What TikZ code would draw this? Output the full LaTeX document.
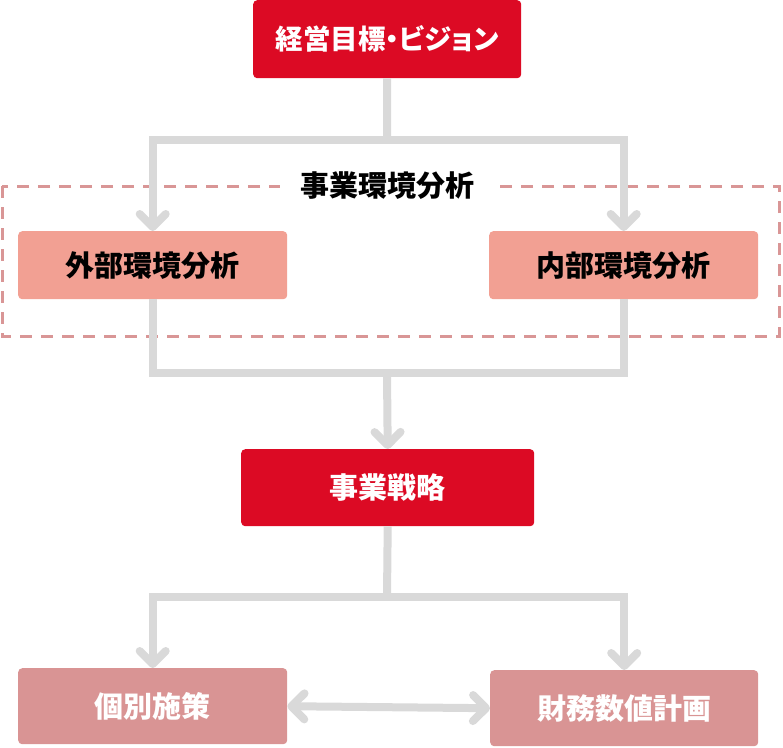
\documentclass[tikz,border=0pt]{standalone}
\usepackage{fontspec}
\setmainfont{Noto Sans CJK JP}
\newfontfamily\jpprop{Noto Sans CJK JP}[RawFeature=+palt]
\usetikzlibrary{arrows.meta}
\definecolor{crim}{HTML}{DC0A24}
\definecolor{salmon}{HTML}{F2A093}
\definecolor{dusty}{HTML}{D99494}
\definecolor{lgray}{HTML}{D9D9D9}
\definecolor{framecol}{HTML}{D99696}
\tikzset{
  box/.style={rounded corners=4pt, inner sep=0pt, anchor=north west,
    font=\fontsize{29}{32}\selectfont\bfseries},
  redbox/.style={box, fill=crim, text=white},
  salbox/.style={box, fill=salmon, text=black},
  pinkbox/.style={box, fill=dusty, text=white},
  conn/.style={draw=lgray, line width=8pt},
  barb/.tip={Straight Barb[length=13pt,width=26pt,line cap=round,line join=round]},
  tip/.style={-barb},
  dtip/.style={barb-barb},
}
\begin{document}
\begin{tikzpicture}[x=1pt,y=-1pt]
\useasboundingbox (0,0) rectangle (783,747);
% dashed frame
\draw[draw=framecol, line width=3pt, dash pattern=on 12pt off 9pt] (2,186) rectangle (779,336);
\node[fill=white, inner xsep=20pt, inner ysep=4pt, font=\fontsize{29}{32}\selectfont\bfseries] (envlbl) at (387,186) {事業環境分析};
% nodes
\node[redbox, minimum width=268pt, minimum height=78pt, font=\fontsize{27.5}{30}\selectfont\jpprop\bfseries] (vision) at (253,0) {経営目標・ビジョン};
\node[salbox, minimum width=269pt, minimum height=68pt] (ext) at (18,231) {外部環境分析};
\node[salbox, minimum width=269pt, minimum height=68pt] (int) at (489,231) {内部環境分析};
\node[redbox, minimum width=293pt, minimum height=77pt] (strat) at (241,449) {事業戦略};
\node[pinkbox, minimum width=269pt, minimum height=76pt] (indiv) at (18,668) {個別施策};
\node[pinkbox, minimum width=268pt, minimum height=76pt] (fin) at (490,670) {財務数値計画};
% junctions
\coordinate (j1) at (387,140);
\coordinate (j2) at (387,373);
\coordinate (j3) at (387,597);
% connectors
\draw[conn] (vision.south) -- (j1);
\draw[conn, tip] (j1) -| (ext.north);
\draw[conn, tip] (j1) -| (int.north);
\draw[conn] (ext.south) |- (j2);
\draw[conn] (int.south) |- (j2);
\draw[conn, tip] (j2) -- (strat.north);
\draw[conn] (strat.south) -- (j3);
\draw[conn, tip] (j3) -| (indiv.north);
\draw[conn, tip] (j3) -| (fin.north);
\draw[conn, dtip] (indiv.east) -- (fin.west);
\end{tikzpicture}
\end{document}
